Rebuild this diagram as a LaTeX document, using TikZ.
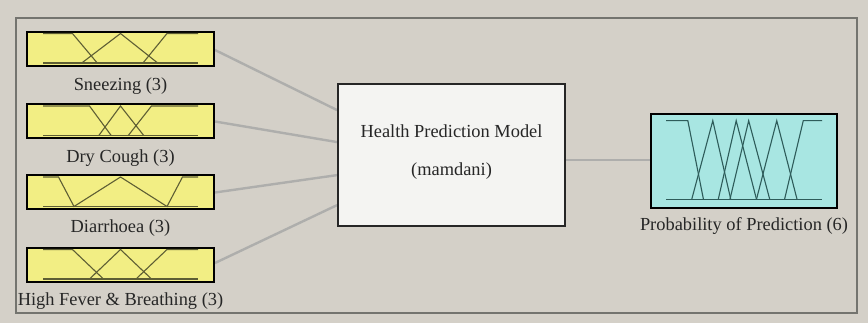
\documentclass[tikz,border=0pt]{standalone}
\usepackage{fontspec}
\setmainfont{Liberation Serif}
\usetikzlibrary{calc}
\definecolor{bgc}{HTML}{D4D0C8}
\definecolor{framec}{HTML}{74746F}
\definecolor{yel}{HTML}{F2EE84}
\definecolor{cya}{HTML}{A8E6E2}
\definecolor{wbox}{HTML}{F4F4F2}
\definecolor{olv}{HTML}{5E5E34}
\definecolor{tealc}{HTML}{2E5C5A}
\definecolor{conc}{HTML}{AEAEAC}
\definecolor{txtc}{HTML}{262626}
\tikzset{
  inbox/.style={draw=black, line width=2pt, fill=yel, minimum width=187pt, minimum height=34pt, inner sep=0pt},
  outbox/.style={draw=black, line width=2pt, fill=cya, minimum width=186pt, minimum height=94pt, inner sep=0pt},
  fisbox/.style={draw=black!85, line width=1.8pt, fill=wbox, minimum width=227pt, minimum height=142pt, inner sep=0pt},
  lbl/.style={anchor=base, inner sep=0pt, text=txtc, font=\fontsize{18.4}{22}\selectfont},
  conn/.style={draw=conc, line width=2.4pt},
  mfin/.style={draw=olv, line width=1.1pt},
  mfout/.style={draw=tealc, line width=1.1pt},
}
\newcommand{\inmf}[2]{%
  \coordinate (#1o) at ($(#1.north west)+(17,2.5)$);
  \begin{scope}[shift={(#1o)}, x=155pt, y=-29.5pt]
    \draw[mfin] #2;
    \draw[mfin] (0,1) -- (1,1);
  \end{scope}}
\begin{document}
\begin{tikzpicture}[x=1pt, y=-1pt]
\fill[bgc] (0,0) rectangle (868,323);
\useasboundingbox (0,0) rectangle (868,323);
\draw[framec, line width=1.4pt] (16,18) rectangle (857,313);

% coordinates for layout
\coordinate (c1) at (120.5,49);
\coordinate (c2) at (120.5,121.5);
\coordinate (c3) at (120.5,192.5);
\coordinate (c4) at (120.5,265);
\coordinate (cf) at (451.5,155);
\coordinate (co) at (744,161);

% connectors (drawn first, boxes on top)
\path (cf) node[fisbox, draw=none, fill=none] (fisg) {};
\path (c1) node[inbox, draw=none, fill=none] (g1) {};
\path (c2) node[inbox, draw=none, fill=none] (g2) {};
\path (c3) node[inbox, draw=none, fill=none] (g3) {};
\path (c4) node[inbox, draw=none, fill=none] (g4) {};
\path (co) node[outbox, draw=none, fill=none] (go) {};
\coordinate (f1) at ($(fisg.north west)+(0,27)$);
\coordinate (f2) at ($(fisg.north west)+(0,59)$);
\coordinate (f3) at ($(fisg.north west)+(0,92)$);
\coordinate (f4) at ($(fisg.north west)+(0,122)$);
\coordinate (f5) at ($(fisg.east)+(0,5)$);
\coordinate (o5) at ($(go.west)+(0,-1)$);
\coordinate (e1) at ($(g1.east)+(0,1)$);
\coordinate (e4) at ($(g4.east)+(0,-2)$);
\draw[conn] (e1) -- (f1);
\draw[conn] (g2.east) -- (f2);
\draw[conn] (g3.east) -- (f3);
\draw[conn] (e4) -- (f4);
\draw[conn] (f5) -- (o5);

% boxes
\node[inbox] (s1) at (c1) {};
\node[inbox] (s2) at (c2) {};
\node[inbox] (s3) at (c3) {};
\node[inbox] (s4) at (c4) {};
\node[fisbox] (fis) at (cf) {};
\node[outbox] (out) at (co) {};

% labels
\node[lbl] (l1) at (120.5,90.5) {Sneezing (3)};
\node[lbl] (l2) at (120.5,163) {Dry Cough (3)};
\node[lbl] (l3) at (120.5,233) {Diarrhoea (3)};
\node[lbl] (l4) at (120.5,305.5) {High Fever \& Breathing (3)};
\node[lbl] (t1) at (451.5,138) {Health Prediction Model};
\node[lbl] (t2) at (451.5,176) {(mamdani)};
\node[lbl] (l5) at (744,230.5) {Probability of Prediction (6)};

% membership functions
\inmf{s1}{(0,0) -- (0.19,0) -- (0.35,1) (0.25,1) -- (0.5,0) -- (0.74,1) (0.645,1) -- (0.8,0) -- (1,0)}
\inmf{s2}{(0,0) -- (0.30,0) -- (0.44,1) (0.36,1) -- (0.5,0) -- (0.65,1) (0.55,1) -- (0.70,0) -- (1,0)}
\inmf{s3}{(0,0) -- (0.10,0) -- (0.20,1) -- (0.5,0) -- (0.8,1) -- (0.9,0) -- (1,0)}
\inmf{s4}{(0,0) -- (0.19,0) -- (0.39,1) (0.30,1) -- (0.5,0) -- (0.70,1) (0.60,1) -- (0.8,0) -- (1,0)}

\coordinate (oo) at ($(out.north west)+(16,7.7)$);
\begin{scope}[shift={(oo)}, x=156pt, y=-78.6pt]
  \draw[mfout] (0,0) -- (0.14,0) -- (0.24,1);
  \draw[mfout] (0.165,1) -- (0.30,0) -- (0.415,1);
  \draw[mfout] (0.335,1) -- (0.45,0) -- (0.58,1);
  \draw[mfout] (0.41,1) -- (0.53,0) -- (0.665,1);
  \draw[mfout] (0.58,1) -- (0.71,0) -- (0.84,1);
  \draw[mfout] (0.76,1) -- (0.88,0) -- (1,0);
  \draw[mfout] (0,1) -- (1,1);
\end{scope}
\end{tikzpicture}
\end{document}
